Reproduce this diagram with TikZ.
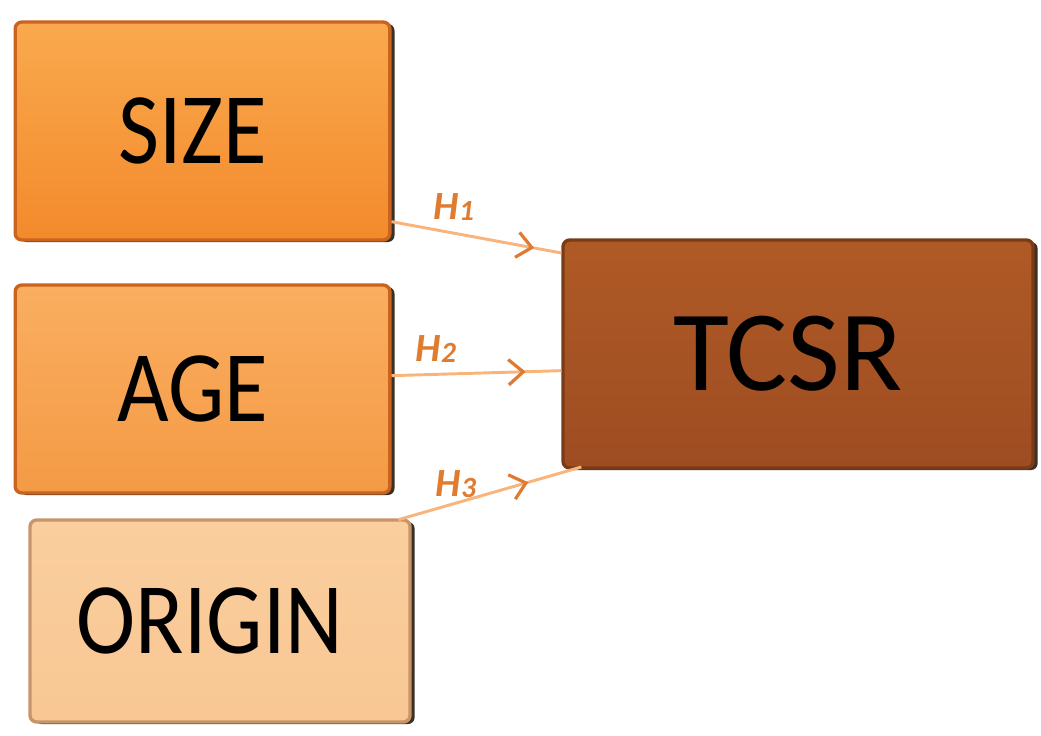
\documentclass[tikz,border=0pt]{standalone}
\usepackage{fontspec}
\setmainfont{Carlito}
\newfontfamily\narrowfont[FakeStretch=0.88]{Carlito}
\usetikzlibrary{arrows.meta,decorations.markings,shadows}
\definecolor{sizeTop}{HTML}{FAA94E}
\definecolor{sizeBot}{HTML}{F38A2C}
\definecolor{ageTop}{HTML}{FAAE60}
\definecolor{ageBot}{HTML}{F49A45}
\definecolor{origTop}{HTML}{FACE9E}
\definecolor{origBot}{HTML}{F8C793}
\definecolor{tcsrTop}{HTML}{AF5A26}
\definecolor{tcsrBot}{HTML}{9E4C22}
\definecolor{orangeEdge}{HTML}{C8641E}
\definecolor{peachEdge}{HTML}{C8956A}
\definecolor{brownEdge}{HTML}{7A3C16}
\definecolor{lineCol}{HTML}{F9B47C}
\definecolor{headCol}{HTML}{DF7A30}
\definecolor{labCol}{HTML}{E07C30}
\newcommand{\hlab}[1]{\bfseries\itshape H\raisebox{-1pt}{\fontsize{22}{24}\selectfont #1}}
\begin{document}
\begin{tikzpicture}[x=0.75pt,y=-0.75pt,
  box/.style={rectangle, rounded corners=5pt, line width=2.5pt, inner sep=0pt,
    font=\narrowfont\fontsize{76}{80}\selectfont, text=black,
    drop shadow={shadow xshift=3.5pt, shadow yshift=-1.5pt, fill=black!80!brown, opacity=0.9}},
  conn/.style={draw=lineCol, line width=2.2pt},
  hd/.style={postaction={decorate, decoration={markings,
    mark=at position #1 with {\arrow[headCol, line width=2.4pt]{Straight Barb[length=11pt,width=19pt]}}}}},
  hl/.style={text=labCol, font=\fontsize{30}{32}\selectfont}
]
\useasboundingbox (0,0) rectangle (1041,735);
\node[box, draw=orangeEdge, top color=sizeTop, bottom color=sizeBot,
  minimum width=281pt, minimum height=163.5pt] (SIZE) at (202.5,131) {SIZE\hspace*{15pt}};
\node[box, draw=orangeEdge, top color=ageTop, bottom color=ageBot,
  minimum width=281pt, minimum height=156pt] (AGE) at (202.5,389) {AGE\hspace*{15pt}};
\node[box, draw=peachEdge, top color=origTop, bottom color=origBot,
  minimum width=285pt, minimum height=151.5pt] (ORIGIN) at (220,621) {ORIGIN\hspace*{15pt}};
\node[box, draw=brownEdge, top color=tcsrTop, bottom color=tcsrBot,
  minimum width=352.5pt, minimum height=171pt, font=\fontsize{86}{90}\selectfont] (TCSR) at (798,354) {TCSR\hspace*{15pt}};

\draw[conn, hd=0.84] ([yshift=15pt]SIZE.south east) -- ([yshift=-11pt]TCSR.north west);
\draw[conn, hd=0.79] ([yshift=10pt]AGE.east) -- ([yshift=-12.5pt]TCSR.west);
\draw[conn, hd=0.71] ([xshift=-10pt,yshift=-1pt]ORIGIN.north east) -- ([xshift=15pt,yshift=2pt]TCSR.south west);

\node[hl] (h1) at (454,207) {\hlab{1}};
\node[hl] (h2) at (436,349) {\hlab{2}};
\node[hl] (h3) at (456,484) {\hlab{3}};
\end{tikzpicture}
\end{document}
